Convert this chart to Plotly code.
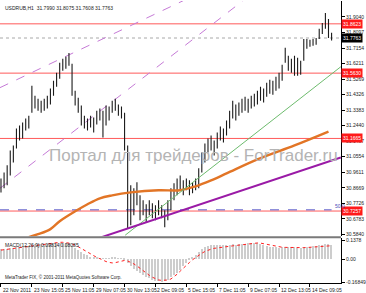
import plotly.graph_objects as go

# ---------------- data ----------------
bar_high = [30.924, 30.960, 31.003, 31.094, 31.124, 31.227, 31.245, 31.263, 31.287, 31.305,
            31.487, 31.426, 31.408, 31.396, 31.408, 31.426, 31.469, 31.517, 31.565, 31.626,
            31.650, 31.662, 31.686, 31.620, 31.456, 31.414, 31.366, 31.305, 31.287, 31.305,
            31.293, 31.335, 31.348, 31.335, 31.366, 31.360, 31.396, 31.408, 31.372, 31.360,
            31.323, 31.124, 30.882, 30.864, 30.900, 30.821, 30.791, 30.767, 30.791, 30.773,
            30.761, 30.791, 30.761, 30.730, 30.791, 30.864, 30.894, 30.924, 30.942, 30.912,
            30.924, 30.912, 30.900, 30.924, 30.985, 31.081, 31.136, 31.166, 31.184, 31.154,
            31.202, 31.239, 31.227, 31.275, 31.335, 31.396, 31.372, 31.384, 31.408, 31.420,
            31.408, 31.426, 31.438, 31.456, 31.481, 31.469, 31.505, 31.523, 31.517, 31.541,
            31.565, 31.614, 31.717, 31.668, 31.650, 31.668, 31.656, 31.638, 31.771, 31.771,
            31.765, 31.771, 31.777, 31.832, 31.868, 31.928, 31.892, 31.8075]
bar_low = [30.839, 30.864, 30.882, 30.942, 31.021, 31.106, 31.154, 31.166, 31.215, 31.227,
           31.323, 31.348, 31.335, 31.323, 31.335, 31.348, 31.372, 31.426, 31.481, 31.529,
           31.577, 31.590, 31.608, 31.426, 31.366, 31.323, 31.245, 31.227, 31.215, 31.233,
           31.202, 31.251, 31.275, 31.172, 31.245, 31.275, 31.323, 31.335, 31.305, 31.287,
           31.094, 30.622, 30.640, 30.700, 30.761, 30.670, 30.700, 30.658, 30.700, 30.682,
           30.670, 30.700, 30.682, 30.628, 30.670, 30.730, 30.791, 30.821, 30.852, 30.821,
           30.852, 30.821, 30.833, 30.852, 30.864, 30.960, 31.021, 31.081, 31.094, 31.063,
           31.106, 31.154, 31.142, 31.184, 31.227, 31.287, 31.275, 31.305, 31.323, 31.335,
           31.323, 31.348, 31.360, 31.372, 31.396, 31.384, 31.420, 31.438, 31.432, 31.456,
           31.469, 31.517, 31.626, 31.577, 31.565, 31.547, 31.547, 31.553, 31.638, 31.711,
           31.723, 31.729, 31.735, 31.771, 31.801, 31.832, 31.777, 31.7608]

macd_hist = [0.070, 0.072, 0.074, 0.076, 0.080, 0.083, 0.086, 0.088, 0.092, 0.095,
             0.100, 0.105, 0.108, 0.110, 0.110, 0.112, 0.113, 0.114, 0.115, 0.116,
             0.115, 0.113, 0.105, 0.095, 0.080, 0.065, 0.050, 0.035, 0.025, 0.015,
             0.010, 0.008, 0.005, 0.003, 0.004, 0.006, 0.008, 0.007, 0.005, 0.003,
             -0.005, -0.030, -0.050, -0.070, -0.085, -0.100, -0.115, -0.130, -0.140, -0.150,
             -0.158, -0.163, -0.165, -0.160, -0.150, -0.135, -0.120, -0.100, -0.080, -0.050,
             -0.030, -0.010, 0.010, 0.030, 0.050, 0.070, 0.085, 0.095, 0.098, 0.100,
             0.100, 0.098, 0.100, 0.100, 0.102, 0.105, 0.104, 0.105, 0.107, 0.110,
             0.113, 0.115, 0.116, 0.114, 0.110, 0.100, 0.092, 0.087, 0.085, 0.083,
             0.082, 0.083, 0.090, 0.088, 0.085, 0.083, 0.082, 0.080, 0.085, 0.088,
             0.090, 0.092, 0.095, 0.098, 0.102, 0.108, 0.110, 0.098]
macd_signal = [0.065, 0.068, 0.071, 0.074, 0.077, 0.080, 0.083, 0.086, 0.090, 0.094,
               0.098, 0.102, 0.105, 0.108, 0.111, 0.114, 0.116, 0.118, 0.120, 0.122,
               0.122, 0.120, 0.116, 0.110, 0.101, 0.090, 0.077, 0.063, 0.049, 0.035,
               0.023, 0.012, 0.003, -0.010, -0.018, -0.024, -0.028, -0.026, -0.020, -0.012,
               -0.010, -0.014, -0.022, -0.035, -0.050, -0.068, -0.085, -0.100, -0.118, -0.132,
               -0.145, -0.152, -0.155, -0.155, -0.152, -0.145, -0.130, -0.110, -0.088, -0.065,
               -0.045, -0.025, -0.005, 0.012, 0.028, 0.042, 0.055, 0.065, 0.072, 0.078,
               0.082, 0.085, 0.088, 0.090, 0.093, 0.096, 0.099, 0.102, 0.105, 0.108,
               0.111, 0.114, 0.116, 0.117, 0.116, 0.112, 0.106, 0.100, 0.095, 0.091,
               0.088, 0.086, 0.085, 0.084, 0.083, 0.082, 0.082, 0.082, 0.083, 0.084,
               0.086, 0.088, 0.090, 0.092, 0.094, 0.096, 0.097, 0.097]

ma_idx = [9, 12, 16, 19, 24, 28, 32, 36, 42, 51, 58, 63, 68, 73, 83, 95, 106]
ma_val = [30.567, 30.585, 30.616, 30.664, 30.724, 30.767, 30.803, 30.821, 30.839, 30.852,
          30.852, 30.876, 30.912, 30.954, 31.039, 31.124, 31.208]

# trend lines: (index0, price0, index1, price1)
trend_purple = [31.6, 30.561, 110.0, 31.051]
trend_green = [40.2, 30.579, 110.0, 31.602]
channel_upper = [-0.32, 31.475, 59.0, 32.003]
channel_lower = [-0.32, 30.864, 78.2, 32.001]

red_levels = [31.8623, 31.5630, 31.1665, 30.7257]
bid_level = 31.7763
fib_level = 30.733
fib_end = 107

y_tickvals = [31.9040, 31.8097, 31.7154, 31.6211, 31.5269, 31.4326, 31.3383, 31.2440,
              31.1497, 31.0554, 30.9611, 30.8669, 30.7726, 30.6783, 30.5840]
macd_tickvals = [0.1378, 0.0, -0.16849]
macd_ticktext = ["0.1378", "0.00", "-0.16849"]

x_tick_idx = [0, 10, 20, 30, 40, 50, 60, 70, 80, 90, 100]
x_tick_text = ["22 Nov 2011", "23 Nov 15:05", "25 Nov 11:05", "29 Nov 07:05", "30 Nov 13:05",
               "2 Dec 09:05", "5 Dec 15:05", "7 Dec 11:05", "9 Dec 07:05", "12 Dec 13:05",
               "14 Dec 09:05"]

header = "USDRUB,H1  31.7990 31.8075 31.7608 31.7763"
macd_label = "MACD(12,26,9) 0.09814 0.08085"
footer = "MetaTrader FIX, © 2001-2011 MetaQuotes Software Corp."
watermark = "Портал для трейдеров - ForTrader.ru"

# ---------------- figure ----------------
FONT = "Liberation Sans, Arial, sans-serif"
fig = go.Figure()
n = len(bar_high)

# channel (dashed purple)
for ln in (channel_upper, channel_lower):
    fig.add_trace(go.Scatter(x=[ln[0], ln[2]], y=[ln[1], ln[3]], mode="lines",
                             line=dict(color="#c57ad6", width=1, dash="dash"),
                             hoverinfo="skip", showlegend=False, xaxis="x", yaxis="y"))

# price bars
bx, by = [], []
for i in range(n):
    bx += [i, i, None]
    by += [bar_low[i], bar_high[i], None]
fig.add_trace(go.Scatter(x=bx, y=by, mode="lines", line=dict(color="#1a1a1a", width=1.1),
                         showlegend=False, xaxis="x", yaxis="y"))

# moving average
fig.add_trace(go.Scatter(x=ma_idx, y=ma_val, mode="lines", line=dict(color="#e27526", width=2.4, shape="spline"),
                         showlegend=False, xaxis="x", yaxis="y"))
# green line
fig.add_trace(go.Scatter(x=[trend_green[0], trend_green[2]], y=[trend_green[1], trend_green[3]], mode="lines",
                         line=dict(color="#6dbb6d", width=1), showlegend=False, xaxis="x", yaxis="y"))
# purple trend line
fig.add_trace(go.Scatter(x=[trend_purple[0], trend_purple[2]], y=[trend_purple[1], trend_purple[3]], mode="lines",
                         line=dict(color="#9a1aa6", width=2), showlegend=False, xaxis="x", yaxis="y"))

# MACD
fig.add_trace(go.Bar(x=list(range(n)), y=macd_hist, marker=dict(color="#cdcdcd", line=dict(width=0)),
                     width=0.4, showlegend=False, xaxis="x2", yaxis="y2"))
fig.add_trace(go.Scatter(x=list(range(n)), y=macd_signal, mode="lines",
                         line=dict(color="#ff2020", width=1, dash="dot"),
                         showlegend=False, xaxis="x2", yaxis="y2"))

shapes = []
for lv in red_levels:
    shapes.append(dict(type="line", xref="paper", x0=0, x1=1, yref="y", y0=lv, y1=lv,
                       line=dict(color="#ff5a5a", width=1), layer="below"))
shapes.append(dict(type="line", xref="paper", x0=0, x1=1, yref="y", y0=bid_level, y1=bid_level,
                   line=dict(color="#a8a8a8", width=1, dash="dot"), layer="below"))
shapes.append(dict(type="line", xref="x", x0=-0.32, x1=fib_end, yref="y", y0=fib_level, y1=fib_level,
                   line=dict(color="#5a5ac8", width=1, dash="dash"), layer="below"))
# panel separator
shapes.append(dict(type="line", xref="paper", x0=0, x1=1, yref="paper", y0=0.1625, y1=0.1625,
                   line=dict(color="#7a7a7a", width=2)))

ann = []
for lv in red_levels:
    ann.append(dict(xref="paper", x=1.0, yref="y", y=lv, text=f"{lv:.4f}", showarrow=False,
                    xanchor="left", yanchor="middle", bgcolor="#ff1a1a", borderpad=1,
                    font=dict(color="white", size=5, family=FONT)))
ann.append(dict(xref="paper", x=1.0, yref="y", y=bid_level, text=f"{bid_level:.4f}", showarrow=False,
                xanchor="left", yanchor="middle", bgcolor="#000000", borderpad=1,
                font=dict(color="white", size=5, family=FONT)))
ann.append(dict(xref="x", x=fib_end + 0.3, yref="y", y=fib_level, text="50.0", showarrow=False,
                xanchor="left", yanchor="bottom", yshift=-1,
                font=dict(color="#4a4ab8", size=5, family=FONT)))
for xi, txt in zip(x_tick_idx, x_tick_text):
    ann.append(dict(xref="x2", x=xi, yref="paper", y=0, text=txt, showarrow=False,
                    xanchor="left", yanchor="top", xshift=0, yshift=-2,
                    font=dict(color="#222222", size=5, family=FONT)))
ann.append(dict(xref="paper", x=0.008, yref="paper", y=1, text=header, showarrow=False,
                xanchor="left", yanchor="top", yshift=-2, font=dict(color="#222222", size=5, family=FONT)))
ann.append(dict(xref="paper", x=0.008, yref="paper", y=0.159, text=macd_label, showarrow=False,
                xanchor="left", yanchor="top", yshift=-2, font=dict(color="#222222", size=5, family=FONT)))
ann.append(dict(xref="paper", x=0.008, yref="paper", y=0.0, text=footer, showarrow=False,
                xanchor="left", yanchor="bottom", yshift=1, font=dict(color="#222222", size=4.5, family=FONT)))
ann.append(dict(xref="paper", x=0.139, yref="y", y=31.063, text=watermark, showarrow=False,
                xanchor="left", yanchor="middle", font=dict(color="#b4b4b4", size=17, family=FONT)))

fig.update_layout(
    width=366, height=293,
    margin=dict(l=0, r=20, t=0, b=10),
    paper_bgcolor="white", plot_bgcolor="white",
    showlegend=False, bargap=0,
    shapes=shapes, annotations=ann,
    xaxis=dict(domain=[0, 1], anchor="y", range=[-0.32, 110.05], showgrid=False, zeroline=False,
               showticklabels=False, ticks=""),
    yaxis=dict(domain=[0.166, 1], anchor="x", side="right", range=[30.573, 32.001],
               tickvals=y_tickvals, ticktext=[f"{v:.4f}" for v in y_tickvals],
               ticks="outside", ticklen=3, tickcolor="black", showgrid=False, zeroline=False,
               showline=True, linecolor="black", linewidth=1,
               tickfont=dict(size=5, color="#222222", family=FONT)),
    xaxis2=dict(domain=[0, 1], anchor="y2", matches="x", showgrid=False, zeroline=False,
                tickvals=x_tick_idx, showticklabels=False, ticks="outside", ticklen=3,
                tickcolor="black", showline=True, linecolor="black", linewidth=1),
    yaxis2=dict(domain=[0, 0.159], anchor="x2", side="right", range=[-0.174, 0.152],
                tickvals=macd_tickvals, ticktext=macd_ticktext, ticks="outside", ticklen=3,
                tickcolor="black", showgrid=False, zeroline=False, showline=True,
                linecolor="black", linewidth=1,
                tickfont=dict(size=5, color="#222222", family=FONT)),
)

fig.write_html("out.html")
